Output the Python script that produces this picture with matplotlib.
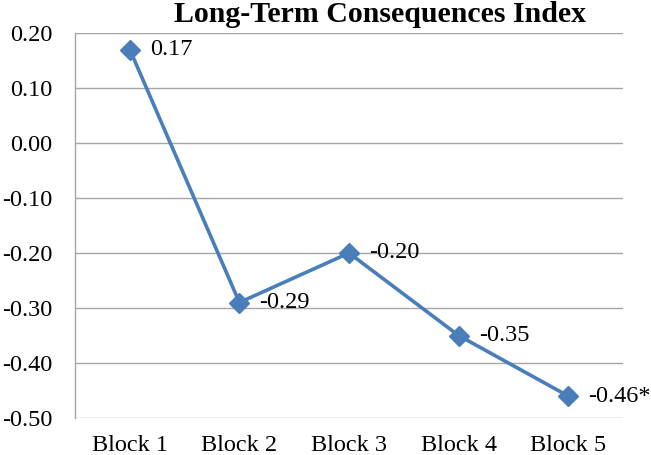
import matplotlib
matplotlib.use("Agg")
import matplotlib.pyplot as plt

categories = ["Block 1", "Block 2", "Block 3", "Block 4", "Block 5"]
values = [0.17, -0.29, -0.20, -0.35, -0.46]
labels = ["0.17", "-0.29", "-0.20", "-0.35", "-0.46*"]
yticks = [0.20, 0.10, 0.00, -0.10, -0.20, -0.30, -0.40, -0.50]

plt.rcParams['font.family'] = ['Liberation Serif', 'DejaVu Serif']

fig = plt.figure(figsize=(6.51, 4.55), dpi=100)
ax = fig.add_axes([75/651, 1 - 418/455, 548/651, 385/455])

color = "#4A7EBB"
x = list(range(len(categories)))
ax.plot(x, values, color=color, lw=2.6, marker="D", markersize=10.5, zorder=3)
for xi, v, lab in zip(x, values, labels):
    ax.annotate(lab, (xi, v), xytext=(14.5, 0), textcoords="offset points",
                ha="left", va="center", fontsize=17.5, color="black")

ax.set_xlim(-0.5, len(categories) - 0.5)
ax.set_ylim(-0.50, 0.20)
ax.set_yticks(yticks)
ax.set_yticklabels([f"{t:.2f}" for t in yticks], fontsize=17.5)
ax.set_xticks(x)
ax.set_xticklabels(categories, fontsize=17.5)
ax.tick_params(axis="both", length=0)
ax.tick_params(axis="x", pad=12)
ax.tick_params(axis="y", pad=16.5)

ax.grid(axis="y", color="#A6A6A6", lw=1)
ax.set_axisbelow(True)
for s in ["top", "right", "bottom"]:
    ax.spines[s].set_visible(False)
ax.spines["left"].set_color("#A6A6A6")
ax.spines["left"].set_linewidth(1)

fig.text(380/651, 1 - 15/455, "Long-Term Consequences Index", ha="center", va="center",
         fontsize=21.5, fontweight="bold")

fig.savefig("out.png", dpi=100)
